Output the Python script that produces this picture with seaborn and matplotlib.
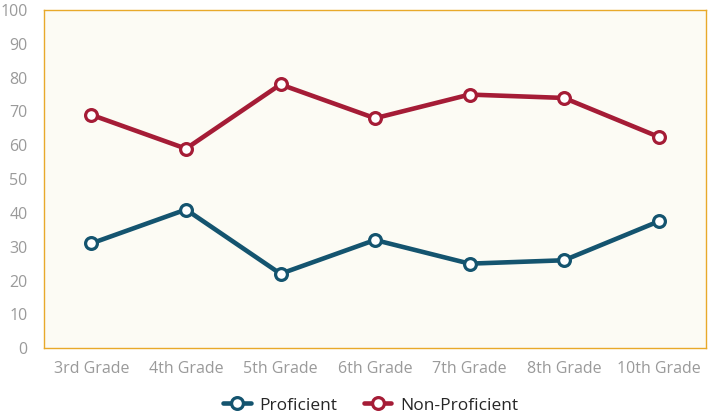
import matplotlib
matplotlib.use('Agg')
import matplotlib.pyplot as plt
import pandas as pd
import seaborn as sns

# Chart data
grades = ['3rd Grade', '4th Grade', '5th Grade', '6th Grade',
          '7th Grade', '8th Grade', '10th Grade']
proficient = [31, 41, 22, 32, 25, 26, 37.5]
non_proficient = [69, 59, 78, 68, 75, 74, 62.5]
series_names = ['Proficient', 'Non-Proficient']
series_colors = ['#14546F', '#A51C36']

df = pd.DataFrame({
    'grade': grades * 2,
    'pos': list(range(len(grades))) * 2,
    'value': proficient + non_proficient,
    'series': [series_names[0]] * len(grades) + [series_names[1]] * len(grades),
})

sns.set_style('white')
plt.rcParams['font.family'] = ['Open Sans', 'DejaVu Sans']

fig = plt.figure(figsize=(7.13, 4.18), dpi=100)
ax = fig.add_axes([0.062, 0.167, 0.928, 0.809])
ax.set_facecolor('#FCFBF4')

sns.lineplot(
    data=df, x='pos', y='value', hue='series',
    palette=dict(zip(series_names, series_colors)),
    linewidth=3.3, marker='o', markersize=8.5,
    markerfacecolor='white', markeredgewidth=2.3,
    ax=ax, legend=False,
)
# marker edges follow the line colour
for line, col in zip(ax.lines, series_colors):
    line.set_markeredgecolor(col)

ax.set_xlim(-0.5, len(grades) - 0.5)
ax.set_ylim(0, 100)
ax.set_xticks(range(len(grades)))
ax.set_xticklabels(grades)
ax.set_yticks(range(0, 101, 10))
ax.tick_params(axis='both', length=0, labelsize=11.5, colors='#9A9A9A')
ax.tick_params(axis='x', pad=9)
ax.tick_params(axis='y', pad=12)
ax.set_xlabel('')
ax.set_ylabel('')
for spine in ax.spines.values():
    spine.set_visible(True)
    spine.set_color('#E8A92A')
    spine.set_linewidth(1)

handles = [plt.Line2D([], [], color=c, lw=3.3, marker='o', markersize=8.5,
                      markerfacecolor='white', markeredgecolor=c,
                      markeredgewidth=2.3) for c in series_colors]
fig.legend(handles, series_names, loc='center', bbox_to_anchor=(0.52, 0.03),
           ncol=2, frameon=False, fontsize=12.5, handlelength=1.6,
           columnspacing=1.5, handletextpad=0.5)

fig.savefig('out.png', dpi=100)
